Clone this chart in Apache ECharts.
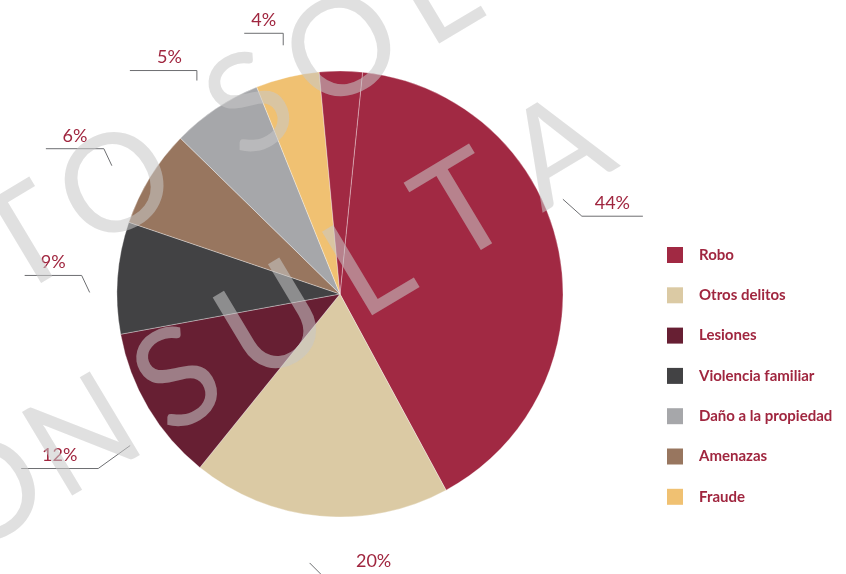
<!DOCTYPE html>
<html>
<head>
<meta charset="utf-8">
<title>Delitos</title>
<script src="https://cdn.jsdelivr.net/npm/echarts@6/dist/echarts.min.js"></script>
<style>
  html, body { margin: 0; padding: 0; background: #fff; }
  #main { width: 846px; height: 574px; }
</style>
</head>
<body>
<div id="main"></div>
<script>
// slices in the order they run clockwise from the top
var sliceNames = ['Robo', 'Otros delitos', 'Lesiones', 'Violencia familiar', 'Amenazas', 'Daño a la propiedad', 'Fraude'];
// share of the circle each slice takes in the drawing
var sliceShares = [43.6, 18.7, 11.3, 8.1, 7.1, 6.6, 4.6];
// printed labels
var sliceLabels = ['44%', '20%', '12%', '9%', '6%', '5%', '4%'];
// Robo is drawn as a big piece plus a thin one at the top, split by a hairline
var roboParts = [40.5, 3.1];
var legendNames = ['Robo', 'Otros delitos', 'Lesiones', 'Violencia familiar', 'Daño a la propiedad', 'Amenazas', 'Fraude'];
var watermark = ['TO SOLO', 'CONSULTA'];

var colors = {
    'Robo': '#A12943',
    'Otros delitos': '#DBCAA4',
    'Lesiones': '#671F33',
    'Violencia familiar': '#424244',
    'Amenazas': '#98765F',
    'Daño a la propiedad': '#A6A7AA',
    'Fraude': '#F0C172'
};

// leader line shape, relative to the anchor echarts gives at the outer ring
var leaders = {
    'Robo': { start: [-23, -20], knee: [-4, -3], arm: 61 },
    'Otros delitos': { start: [-7, 13], knee: [8, 28], arm: 98, tdy: -17 },
    'Lesiones': { start: [11, 20], knee: [-21, 43], arm: -77 },
    'Violencia familiar': { start: [6, 17], knee: [-2, 0], arm: -57 },
    'Amenazas': { start: [-9, 6], knee: [-17, -11], arm: -58 },
    'Daño a la propiedad': { start: [0, 0], knee: [0, -10], arm: -67, tdx: 6 },
    'Fraude': { start: [4, 1], knee: [4, -11], arm: -39 }
};

var red = '#A0263F';

// visible pie: Robo split in two pieces
var pieData = [{ name: 'Robo', value: roboParts[0], itemStyle: { color: colors['Robo'] } }];
for (var i = 1; i < sliceNames.length; i++) {
    pieData.push({ name: sliceNames[i], value: sliceShares[i], itemStyle: { color: colors[sliceNames[i]] } });
}
pieData.push({ name: 'Robo', value: roboParts[1], itemStyle: { color: colors['Robo'] } });

// invisible pie that only carries the labels
var labelData = sliceNames.map(function (n, i) { return { name: n, value: sliceShares[i] }; });

// watermark letters laid out one by one along a tilted line
var tilt = 31 * Math.PI / 180;
function stamp(word, x0, y0, step) {
    var els = [], k = 0;
    for (var j = 0; j < word.length; j++) {
        if (word[j] === ' ') { k += 0.45; continue; }
        els.push({
            type: 'text', z: 100, silent: true,
            x: x0 + k * step * Math.cos(tilt),
            y: y0 - k * step * Math.sin(tilt),
            rotation: tilt,
            style: {
                text: word[j], font: '136px Lato', fill: 'rgba(200,200,200,0.56)',
                align: 'center', verticalAlign: 'middle'
            }
        });
        k += 1;
    }
    return els;
}

var chart = echarts.init(document.getElementById('main'));
chart.setOption({
    animation: false,
    legend: {
        data: legendNames,
        orient: 'vertical',
        left: 662,
        top: 242,
        itemWidth: 16,
        itemHeight: 16,
        itemGap: 24.3,
        icon: 'rect',
        selectedMode: false,
        itemStyle: { borderWidth: 0 },
        textStyle: {
            color: red,
            fontFamily: 'Lato',
            fontWeight: 'bold',
            fontSize: 15,
            padding: [0, 0, 0, 11]
        }
    },
    series: [
        {
            type: 'pie',
            center: [340, 294],
            radius: 223,
            startAngle: 84.2,
            clockwise: true,
            silent: true,
            label: { show: false },
            labelLine: { show: false },
            itemStyle: { borderColor: 'rgba(255,255,255,0.55)', borderWidth: 0.6 },
            emphasis: { disabled: true },
            data: pieData
        },
        {
            type: 'pie',
            center: [340, 294],
            radius: 257,
            startAngle: 95.4,
            clockwise: true,
            silent: true,
            avoidLabelOverlap: false,
            itemStyle: { color: 'rgba(0,0,0,0)' },
            emphasis: { disabled: true },
            label: {
                show: true,
                position: 'outside',
                color: red,
                fontFamily: 'Lato',
                fontSize: 18,
                formatter: function (p) { return sliceLabels[p.dataIndex]; }
            },
            labelLine: {
                show: true,
                length: 16,
                length2: 40,
                smooth: false,
                lineStyle: { color: '#6d6e71', width: 1 }
            },
            labelLayout: function (p) {
                var pts = p.labelLinePoints;
                if (!pts) return {};
                var o = pts[0];
                var l = leaders[sliceNames[p.dataIndex]];
                var a = [o[0] + l.start[0], o[1] + l.start[1]];
                var b = [o[0] + l.knee[0], o[1] + l.knee[1]];
                var c = [b[0] + l.arm, b[1]];
                return {
                    x: b[0] + l.arm / 2 + (l.tdx || 0),
                    y: b[1] + (l.tdy || -13),
                    align: 'center',
                    verticalAlign: 'middle',
                    labelLinePoints: [a, b, c]
                };
            },
            data: labelData
        }
    ],
    graphic: stamp(watermark[0], 24, 242, 108).concat(stamp(watermark[1], -107, 552, 111))
});
</script>
</body>
</html>
